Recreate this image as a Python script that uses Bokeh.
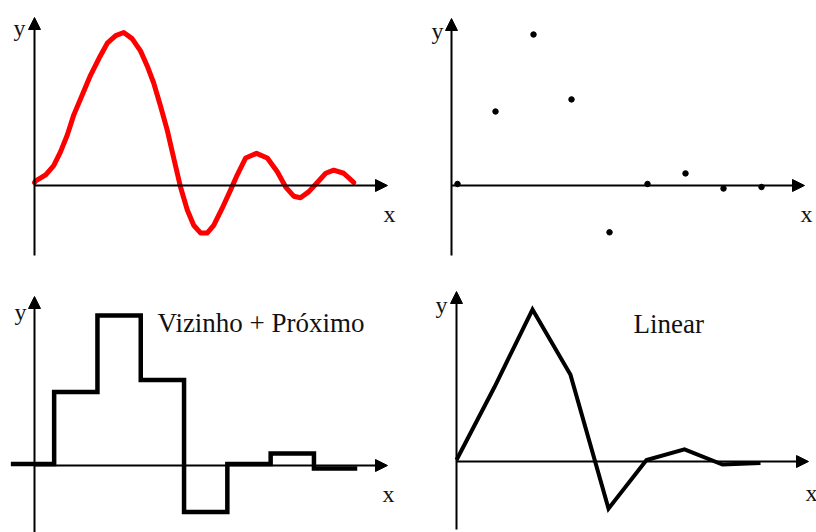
from bokeh.plotting import figure
from bokeh.layouts import gridplot
from bokeh.models import Range1d, Arrow, NormalHead, Label
from bokeh.embed import file_html
from bokeh.resources import INLINE

# Continuous signal (time in sample periods, amplitude normalised to the main peak)
curve_t = [0.0, 0.03, 0.28, 0.48, 0.65, 0.82, 0.98, 1.19, 1.40, 1.61, 1.82, 2.03,
           2.23, 2.44, 2.65, 2.82, 2.98, 3.15, 3.32, 3.48, 3.65, 3.82, 3.98, 4.15,
           4.32, 4.48, 4.69, 4.90, 5.07, 5.28, 5.55, 5.82, 6.07, 6.28, 6.48, 6.65,
           6.86, 7.07, 7.28, 7.48, 7.73, 7.98]
curve_v = [0.02, 0.03, 0.07, 0.13, 0.22, 0.33, 0.46, 0.59, 0.72, 0.83, 0.93, 0.98,
           1.0, 0.96, 0.88, 0.78, 0.67, 0.52, 0.36, 0.18, -0.01, -0.16, -0.26, -0.31,
           -0.31, -0.26, -0.15, -0.03, 0.07, 0.18, 0.21, 0.18, 0.09, -0.01, -0.07, -0.08,
           -0.04, 0.02, 0.08, 0.10, 0.08, 0.02]

# Discrete samples of the signal
sample_t = [0, 1, 2, 3, 4, 5, 6, 7, 8]
sample_v = [0.01, 0.49, 1.0, 0.57, -0.31, 0.01, 0.08, -0.02, -0.01]

# Number of samples held by the nearest-neighbour reconstruction
hold_count = 8

titles = ["Vizinho + Próximo", "Linear"]

W, H = 408, 266
FONT = "Liberation Serif"
INK = "#111111"


def panel(ox, oy, sx, sy):
    """Figure whose data origin sits at pixel (ox, oy) with sx/sy pixels per unit."""
    p = figure(width=W, height=H,
               x_range=Range1d(-ox / sx, (W - ox) / sx),
               y_range=Range1d(-(H - oy) / sy, oy / sy),
               x_axis_type=None, y_axis_type=None,
               toolbar_location=None, output_backend="svg",
               min_border=0, outline_line_color=None,
               background_fill_color="white", border_fill_color="white")
    fx = lambda px: (px - ox) / sx
    fy = lambda py: (oy - py) / sy
    return p, fx, fy


def axes(p, fx, fy, ax_px, y_bottom, y_top, x_left, x_tip, oy):
    head = lambda: NormalHead(size=12, fill_color="black", line_color="black", line_width=1)
    p.add_layout(Arrow(x_start=fx(ax_px), y_start=fy(y_bottom), x_end=fx(ax_px), y_end=fy(y_top),
                       end=head(), line_width=2, line_color="black"))
    p.add_layout(Arrow(x_start=fx(x_left), y_start=fy(oy), x_end=fx(x_tip), y_end=fy(oy),
                       end=head(), line_width=2, line_color="black"))


def text(p, fx, fy, s, px, py, size, align="center"):
    p.add_layout(Label(x=fx(px), y=fy(py), text=s, text_font=FONT, text_font_size=size,
                       text_color=INK, text_align=align, text_baseline="alphabetic"))


# --- continuous signal ---
p1, fx, fy = panel(34, 185, 40, 153)
axes(p1, fx, fy, 34, 255, 17, 34, 387, 185)
p1.line(curve_t, curve_v, line_color="#ff0000", line_width=5, line_join="round", line_cap="round")
text(p1, fx, fy, "y", 19, 27, "24px")
text(p1, fx, fy, "x", 389, 213, "24px")

# --- samples ---
p2, fx, fy = panel(49, 185, 38, 151)
axes(p2, fx, fy, 43, 255, 18, 43, 396, 185)
p2.scatter(sample_t, sample_v, marker="circle", size=5.5, color="black")
text(p2, fx, fy, "y", 29, 30, "24px")
text(p2, fx, fy, "x", 398, 213, "24px")

# --- nearest-neighbour reconstruction ---
p3, fx, fy = panel(32, 199, 43.3, 150)
axes(p3, fx, fy, 34, 266, 30, 34, 387, 199)
step_x, step_y = [], []
for t, v in zip(sample_t[:hold_count], sample_v[:hold_count]):
    step_x += [t - 0.5, t + 0.5]
    step_y += [v, v]
p3.line(step_x, step_y, line_color="black", line_width=4.5, line_join="miter")
text(p3, fx, fy, "y", 20, 45, "24px")
text(p3, fx, fy, "x", 388, 227, "24px")
text(p3, fx, fy, titles[0], 157, 56, "27px", align="left")

# --- linear reconstruction ---
p4, fx, fy = panel(48, 195, 38, 152)
axes(p4, fx, fy, 48, 263, 25, 48, 400, 195)
p4.line(sample_t, sample_v, line_color="black", line_width=4, line_join="miter")
text(p4, fx, fy, "y", 33, 38, "24px")
text(p4, fx, fy, "x", 403, 226, "24px")
text(p4, fx, fy, titles[1], 225, 57, "27px", align="left")

grid = gridplot([[p1, p2], [p3, p4]], toolbar_location=None)

open("out.html", "w").write(file_html(grid, INLINE))
